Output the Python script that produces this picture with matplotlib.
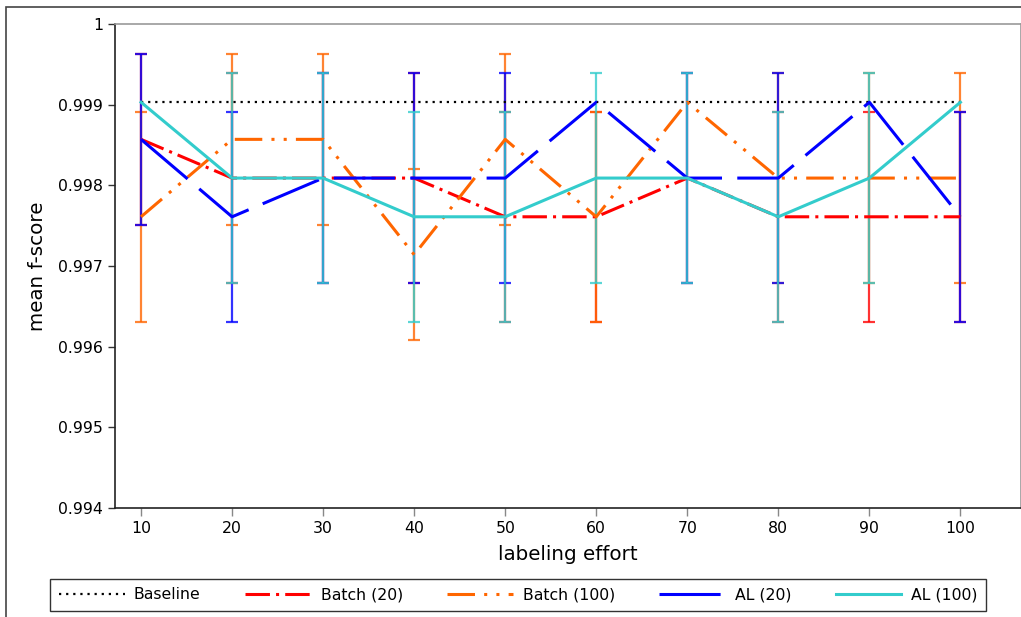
import numpy as np
import matplotlib
matplotlib.use("Agg")
import matplotlib.pyplot as plt
from matplotlib.patches import Rectangle

nan = np.nan
effort = [10, 20, 30, 40, 50, 60, 70, 80, 90, 100]
baseline = [0.99903] * 10

batch20 = [0.99857, 0.99809, 0.99809, 0.99809, 0.99761, 0.99761, 0.99809, 0.99761, 0.99761, 0.99761]
batch20_err = [0.00106, 0.0013, 0.0013, 0.0013, 0.0013, 0.0013, 0.0013, 0.0013, 0.0013, 0.0013]

batch100 = [0.99761, 0.99857, 0.99857, 0.99714, 0.99857, 0.99761, 0.99903, 0.99809, 0.99809, 0.99809]
batch100_err = [0.0013, 0.00106, 0.00106, 0.00106, 0.00106, 0.0013, nan, 0.0013, 0.0013, 0.0013]

al20 = [0.99857, 0.99761, 0.99809, 0.99809, 0.99809, 0.99903, 0.99809, 0.99809, 0.99903, 0.99761]
al20_err = [0.00106, 0.0013, 0.0013, 0.0013, 0.0013, nan, 0.0013, 0.0013, nan, 0.0013]

al100 = [0.99903, 0.99809, 0.99809, 0.99761, 0.99761, 0.99809, 0.99809, 0.99761, 0.99809, 0.99903]
al100_err = [nan, 0.0013, 0.0013, 0.0013, 0.0013, 0.0013, 0.0013, 0.0013, 0.0013, nan]

yticks = [0.994, 0.995, 0.996, 0.997, 0.998, 0.999, 1.0]
ytick_labels = ["0.994", "0.995", "0.996", "0.997", "0.998", "0.999", "1"]

W, H = 1021, 617
fig = plt.figure(figsize=(W / 100, H / 100), dpi=100)
ax = fig.add_axes([115 / W, 1 - 508 / H, (1020.5 - 115) / W, (508 - 24) / H])

# outer figure frame (only left/top visible)
fig.patches.append(Rectangle((6 / W, -0.2), 1.5, 0.2 + 1 - 7 / H, transform=fig.transFigure,
                             fill=False, edgecolor="#444444", lw=1.2, zorder=0))

series = [
    ("Batch (20)", batch20, batch20_err, "#ff0000", (8, 2, 1, 2)),
    ("Batch (100)", batch100, batch100_err, "#ff6600", (9, 3, 1, 3, 1, 3)),
    ("AL (20)", al20, al20_err, "#0000ff", (20, 5)),
    ("AL (100)", al100, al100_err, "#33cccc", None),
]

handles = []
h, = ax.plot(effort, baseline, color="black", lw=1.6, dashes=(1, 2.2), label="Baseline", zorder=3)
handles.append(h)
for i, (lab, vals, err, col, dash) in enumerate(series):
    ax.errorbar(effort, vals, yerr=err, fmt="none", ecolor=col, elinewidth=1.6,
                capsize=4, capthick=1.6, alpha=0.8, zorder=2 + i * 0.01)
    kw = dict(color=col, lw=2.2, label=lab, zorder=4 + i * 0.1)
    if dash is not None:
        kw["dashes"] = dash
    h, = ax.plot(effort, vals, **kw)
    handles.append(h)

ax.set_xlim(7.14, 106.6)
ax.set_ylim(0.994, 1.0)
ax.set_xticks(effort)
ax.set_xticklabels([str(v) for v in effort], fontsize=11.3)
ax.set_yticks(yticks)
ax.set_yticklabels(ytick_labels, fontsize=11.3)
ax.tick_params(axis="y", direction="out", length=5, width=1, color="#333333")
ax.tick_params(axis="x", direction="out", length=6, width=1, color="#888888")
for s in ("left", "bottom"):
    ax.spines[s].set_color("#222222")
    ax.spines[s].set_linewidth(1.2)
for s in ("top", "right"):
    ax.spines[s].set_color("#999999")
    ax.spines[s].set_linewidth(1.2)

ax.set_xlabel("labeling effort", fontsize=14.3, labelpad=6)
ax.set_ylabel("mean f-score", fontsize=14.3, labelpad=8)

leg = fig.legend(handles=handles, loc="lower left", ncol=5, mode="expand",
                 bbox_to_anchor=(50 / W, 1 - 611 / H, (986 - 50) / W, (611 - 577) / H),
                 fontsize=11.3, handlelength=4.2, handletextpad=0.6, borderaxespad=0,
                 frameon=True, fancybox=False, edgecolor="black", borderpad=0.55)
leg.get_frame().set_linewidth(1.0)

fig.savefig("out.png", dpi=100)
